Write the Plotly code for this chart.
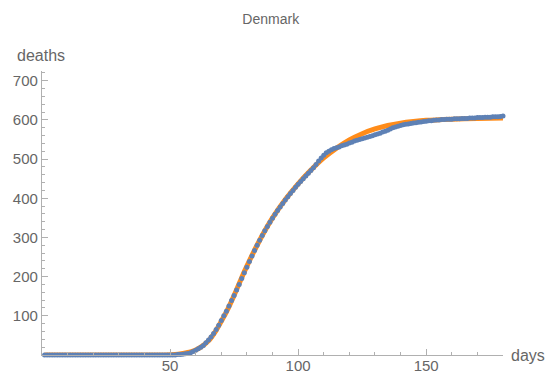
import plotly.graph_objects as go

# observed cumulative deaths, days 1..180
days = list(range(1, 181))
deaths = [0] * 52 + [
    1, 1, 2, 3, 4, 6, 9, 12, 16, 20,            # 53-62
    24, 31, 38, 46, 55, 65, 76, 88, 100, 112,   # 63-72
    125, 139, 152, 166, 180, 195, 210, 224, 239, 253,  # 73-82
    267, 280, 293, 305, 317, 328, 339, 349, 359, 369,  # 83-92
    378, 387, 396, 404, 412, 420, 428, 436, 443, 450,  # 93-102
    457, 464, 471, 478, 486, 495, 503, 510, 516, 520,  # 103-112
    524, 527, 529, 531, 534, 536, 538, 541, 543, 546,  # 113-122
    548, 550, 552, 554, 556, 558, 560, 562, 564, 566,  # 123-132
    569, 571, 574, 577, 580, 582, 584, 586, 588, 589,  # 133-142
    590, 591, 592, 593, 594, 595, 596, 597, 598, 598,  # 143-152
    599, 600, 600, 601, 601, 602, 602, 602, 603, 603,  # 153-162
    603, 604, 604, 604, 605, 605, 605, 606, 606, 606,  # 163-172
    607, 607, 607, 608, 608, 608, 609, 610,            # 173-180
]

# fitted curve
fit_days = [1, 20, 40, 48, 52, 55, 58, 60, 62, 65, 68, 70, 72, 75, 78, 80, 85, 90, 95,
            100, 105, 110, 115, 120, 125, 130, 135, 140, 145, 150, 160, 170, 180]
fit_vals = [0, 0, 0, 0, 1, 4, 8, 13, 20, 36, 63, 86, 110, 152, 198, 227, 293, 350, 397,
            437, 472, 503, 528, 549, 565, 577, 586, 592, 596, 599, 602, 604, 605]

x_ticks = [50, 100, 150]
y_ticks = [100, 200, 300, 400, 500, 600, 700]

FONT = "Liberation Sans, Arial, sans-serif"
AXIS_COL = "#b0b0b0"
TXT_COL = "#666666"

fig = go.Figure()
fig.add_trace(go.Scatter(x=fit_days, y=fit_vals, mode="lines",
                         line=dict(color="#FF8C1A", width=5, shape="spline", smoothing=0.6),
                         cliponaxis=False, hoverinfo="skip"))
fig.add_trace(go.Scatter(x=days, y=deaths, mode="markers",
                         marker=dict(color="#5E81B5", size=5, line=dict(width=0)),
                         cliponaxis=False))

fig.update_layout(
    width=547, height=374,
    margin=dict(l=42, r=44, t=71, b=19, autoexpand=False),
    paper_bgcolor="white", plot_bgcolor="white",
    showlegend=False,
    font=dict(family=FONT, color=TXT_COL, size=15),
    title=dict(text="Denmark", x=0.495, xanchor="center", y=0.95, yanchor="middle",
               font=dict(size=14, color=TXT_COL, family=FONT)),
    xaxis=dict(range=[0, 180], showgrid=False, zeroline=False, showline=True,
               linecolor=AXIS_COL, linewidth=1.3, ticks="inside", ticklen=6,
               tickcolor=AXIS_COL, tickvals=x_ticks, ticktext=[str(v) for v in x_ticks],
               minor=dict(dtick=10, tick0=0, ticks="inside", ticklen=3, tickcolor=AXIS_COL),
               tickfont=dict(size=15, color=TXT_COL), automargin=False,
               ticklabelstandoff=-3),
    yaxis=dict(range=[0, 725], showgrid=False, zeroline=False, showline=True,
               linecolor=AXIS_COL, linewidth=1.3, ticks="inside", ticklen=6,
               tickcolor=AXIS_COL, tickvals=y_ticks, ticktext=[str(v) for v in y_ticks],
               minor=dict(dtick=20, tick0=0, ticks="inside", ticklen=3, tickcolor=AXIS_COL),
               tickfont=dict(size=15, color=TXT_COL), automargin=False),
    annotations=[
        dict(text="deaths", xref="paper", yref="paper", x=-0.002, y=1.056,
             xanchor="center", yanchor="middle", showarrow=False,
             font=dict(size=16, color=TXT_COL, family=FONT)),
        dict(text="days", xref="paper", yref="paper", x=1.0, y=0,
             xanchor="left", yanchor="middle", showarrow=False, xshift=6,
             font=dict(size=16, color=TXT_COL, family=FONT)),
    ],
)

fig.write_html("out.html", post_script="document.body.style.margin='0';",
               config={"displayModeBar": False})
